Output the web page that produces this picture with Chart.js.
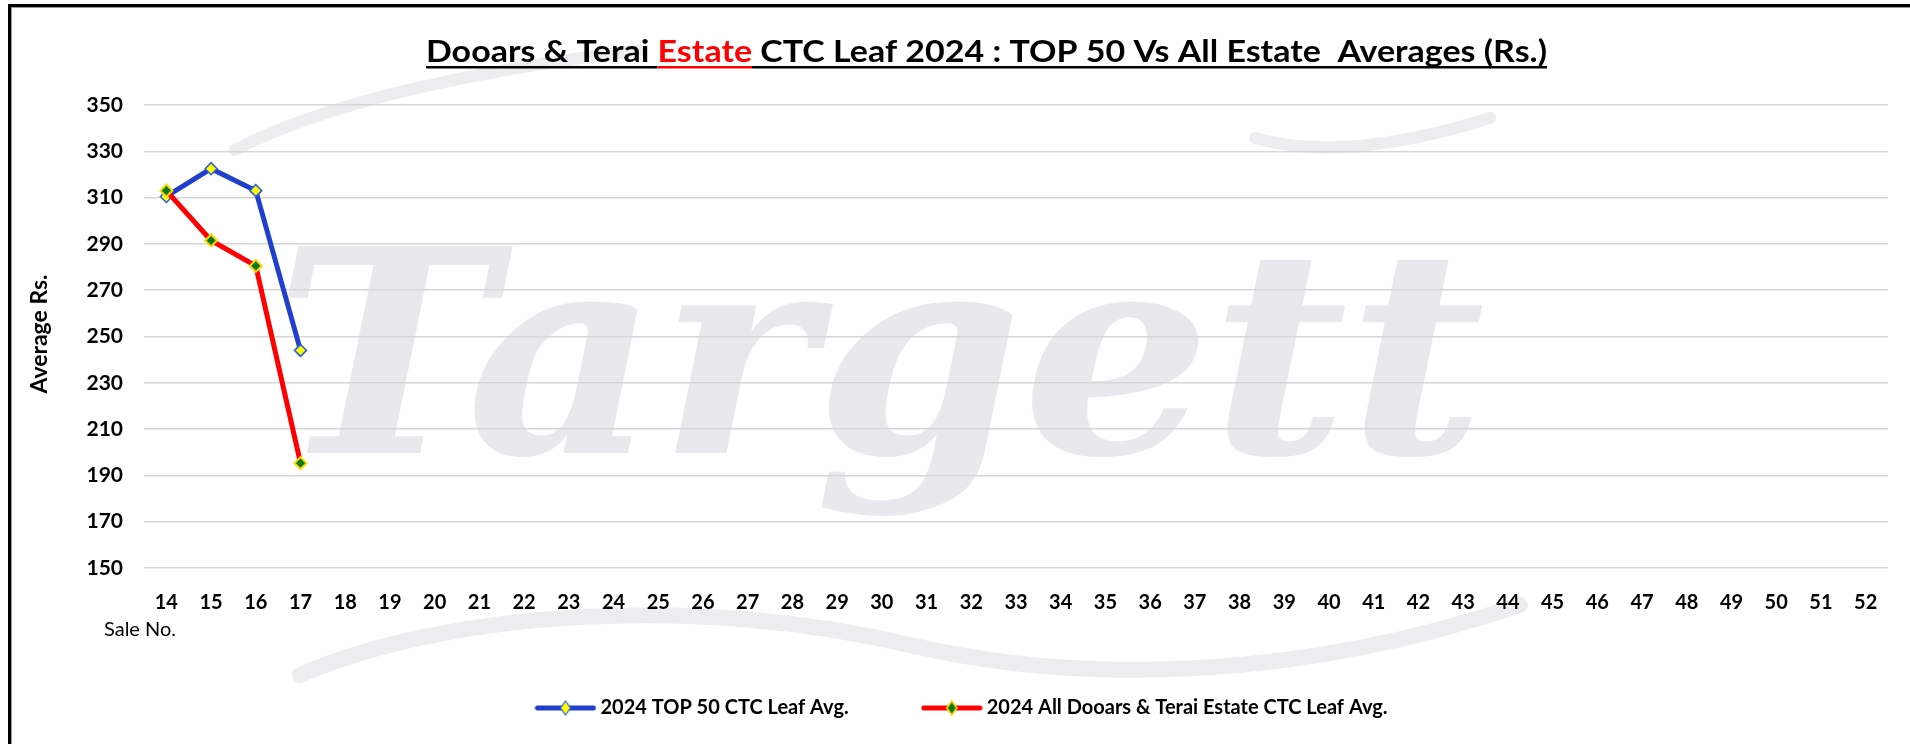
<!DOCTYPE html>
<html>
<head>
<meta charset="utf-8">
<script src="https://cdn.jsdelivr.net/npm/chart.js@4.4.1/dist/chart.umd.min.js"></script>
<style>
  html, body { margin: 0; padding: 0; background: #fff; overflow: hidden; }
  canvas { display: block; }
</style>
</head>
<body>
<canvas id="teaChart" width="1910" height="744"></canvas>
<script>
// sale numbers on the x axis
const saleNos = ['14', '15', '16', '17', '18', '19', '20', '21', '22', '23', '24', '25', '26',
  '27', '28', '29', '30', '31', '32', '33', '34', '35', '36', '37', '38', '39',
  '40', '41', '42', '43', '44', '45', '46', '47', '48', '49', '50', '51', '52'];
// averages (Rs.)
const top50Avg = [310.5, 322.5, 313, 244];
const allEstateAvg = [313, 291.5, 280.5, 195.3];
const seriesNames = ['2024 TOP 50 CTC Leaf Avg.', '2024 All Dooars & Terai Estate CTC Leaf Avg.'];
const yTickValues = [150, 170, 190, 210, 230, 250, 270, 290, 310, 330, 350];

const BLUE = '#1f3fcc';
const RED = '#ff0000';

// line + diamond image for the legend
function legendIcon(lineColor, fill, border, bw) {
  const c = document.createElement('canvas');
  c.width = 62; c.height = 18;
  const g = c.getContext('2d');
  g.strokeStyle = lineColor; g.lineWidth = 5; g.lineCap = 'round';
  g.beginPath(); g.moveTo(3, 9); g.lineTo(59, 9); g.stroke();
  g.beginPath();
  g.moveTo(31, 2); g.lineTo(36, 9); g.lineTo(31, 16); g.lineTo(26, 9); g.closePath();
  g.fillStyle = fill; g.fill();
  g.lineWidth = bw; g.strokeStyle = border; g.stroke();
  return c;
}
const icons = [legendIcon(BLUE, '#ffff00', '#2b5be0', 1.2), legendIcon(RED, '#0b7a0b', '#ffd800', 1.6)];

const decor = {
  id: 'decor',
  beforeDraw(chart) {
    const ctx = chart.ctx;
    ctx.save();
    ctx.fillStyle = '#fff';
    ctx.fillRect(0, 0, chart.width, chart.height);
    // faint watermark
    ctx.fillStyle = '#e9e9ed';
    ctx.textAlign = 'left';
    ctx.textBaseline = 'alphabetic';
    ctx.font = 'bold italic 284px "DejaVu Serif"';
    const w = ctx.measureText('Targett').width;
    ctx.translate(274, 453);
    ctx.scale(1211 / w, 1);
    ctx.fillText('Targett', 0, 0);
    ctx.restore();
    ctx.save();
    ctx.strokeStyle = '#ededf0';
    ctx.lineCap = 'round';
    ctx.lineWidth = 16;
    ctx.beginPath();
    ctx.moveTo(300, 675);
    ctx.bezierCurveTo(450, 610, 700, 595, 910, 645);
    ctx.bezierCurveTo(1080, 685, 1300, 680, 1520, 605);
    ctx.stroke();
    ctx.lineWidth = 12;
    ctx.beginPath();
    ctx.moveTo(235, 150);
    ctx.bezierCurveTo(330, 100, 480, 70, 640, 50);
    ctx.stroke();
    ctx.beginPath();
    ctx.moveTo(1255, 138);
    ctx.bezierCurveTo(1330, 160, 1420, 140, 1490, 118);
    ctx.stroke();
    ctx.restore();
  },
  afterDraw(chart) {
    const ctx = chart.ctx;
    ctx.save();
    // frame
    ctx.fillStyle = '#000';
    ctx.fillRect(8, 4, chart.width - 8, 3);
    ctx.fillRect(8, 4, 3, chart.height - 4);
    ctx.fillStyle = '#9a9a9a';
    ctx.fillRect(11, 7, chart.width - 11, 1);
    ctx.fillRect(11, 7, 1, chart.height - 7);

    // title with red word and underline
    const parts = [['Dooars & Terai ', '#000'], ['Estate', '#ff0000'],
      [' CTC Leaf 2024 : TOP 50 Vs All Estate  Averages (Rs.)', '#000']];
    ctx.font = 'bold 31px Lato';
    ctx.textAlign = 'left';
    ctx.textBaseline = 'alphabetic';
    let total = 0;
    parts.forEach(p => { total += ctx.measureText(p[0]).width; });
    ctx.translate(426, 0);
    ctx.scale(1121 / total, 1);
    let x = 0;
    parts.forEach(p => {
      const pw = ctx.measureText(p[0]).width;
      ctx.fillStyle = p[1];
      ctx.fillText(p[0], x, 62);
      ctx.fillRect(x, 66, pw, 2.5);
      x += pw;
    });
    ctx.restore();

    // axis titles
    ctx.save();
    ctx.fillStyle = '#000';
    ctx.font = 'bold 23px Lato';
    ctx.textAlign = 'center';
    ctx.textBaseline = 'middle';
    ctx.translate(40, 334);
    ctx.rotate(-Math.PI / 2);
    ctx.fillText('Average Rs.', 0, 0);
    ctx.restore();

    ctx.save();
    ctx.fillStyle = '#000';
    ctx.font = '20px Lato';
    ctx.textAlign = 'left';
    ctx.textBaseline = 'middle';
    ctx.fillText('Sale No.', chart.scales.x.left - 40, 630);
    ctx.restore();
  }
};

new Chart(document.getElementById('teaChart'), {
  type: 'line',
  data: {
    labels: saleNos,
    datasets: [{
      label: seriesNames[0],
      data: top50Avg,
      borderColor: BLUE,
      borderWidth: 5,
      pointStyle: 'rectRot',
      pointRadius: 6,
      pointBackgroundColor: '#ffff00',
      pointBorderColor: '#2b5be0',
      pointBorderWidth: 1.5,
      tension: 0,
      order: 1
    }, {
      label: seriesNames[1],
      data: allEstateAvg,
      borderColor: RED,
      borderWidth: 5,
      pointStyle: 'rectRot',
      pointRadius: 6,
      pointBackgroundColor: '#0b7a0b',
      pointBorderColor: '#ffd800',
      pointBorderWidth: 2,
      tension: 0,
      order: 0
    }]
  },
  options: {
    responsive: false,
    animation: false,
    layout: { padding: { top: 105, left: 40, right: 22, bottom: 16 } },
    plugins: {
      title: { display: false },
      tooltip: { enabled: false },
      legend: {
        position: 'bottom',
        labels: {
          usePointStyle: true,
          pointStyleWidth: 50,
          padding: 10,
          color: '#111',
          font: { family: 'Lato', weight: 'bold', size: 20 },
          generateLabels(chart) {
            return chart.data.datasets.map((ds, i) => ({
              text: i === 0 ? ds.label + '              ' : ds.label,
              pointStyle: icons[i],
              fillStyle: ds.borderColor,
              strokeStyle: ds.borderColor,
              lineWidth: 0,
              hidden: false,
              datasetIndex: i
            }));
          }
        }
      }
    },
    scales: {
      x: {
        type: 'category',
        offset: true,
        grid: { display: false, drawTicks: false },
        border: { display: false },
        ticks: {
          color: '#000',
          padding: 23,
          autoSkip: false,
          maxRotation: 0,
          font: { family: 'Lato', weight: 'bold', size: 20 }
        },
        afterFit(scale) { scale.height = 120; }
      },
      y: {
        min: 150,
        max: 350,
        afterBuildTicks(scale) { scale.ticks = yTickValues.map(v => ({ value: v })); },
        grid: { color: '#d6d6d6', lineWidth: 1.5, drawTicks: false },
        border: { display: false },
        ticks: {
          color: '#000',
          padding: 21,
          font: { family: 'Lato', weight: 'bold', size: 21 }
        },
        afterFit(scale) { scale.width = 104; }
      }
    }
  },
  plugins: [decor]
});
</script>
</body>
</html>
